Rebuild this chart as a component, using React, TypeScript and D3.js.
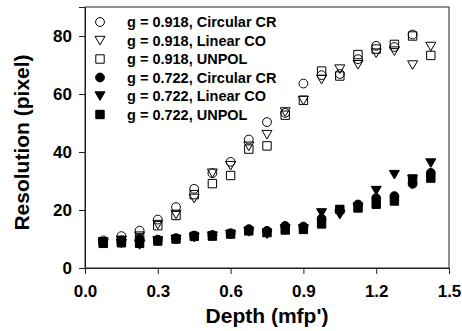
import * as d3 from "d3";
import { useEffect, useRef } from "react";

// depth (mfp') of every measurement
const depth = [0.075, 0.15, 0.225, 0.3, 0.375, 0.45, 0.525, 0.6, 0.675, 0.75, 0.825, 0.9, 0.975, 1.05, 1.125, 1.2, 1.275, 1.35, 1.425];

// g = 0.918 (open markers)
const circ918 = [9.5, 11, 12.9, 16.7, 21, 27.3, 32.7, 36.6, 44.3, 50.3, 53.5, 63.6, 66.5, 66.9, 72, 76.6, 76.2, 80.5, null];
const lin918 = [9, 9.5, 11, 15, 18.5, 24, 32.7, 35.3, 42, 46, 53.8, 57.8, 65, 68.6, 70.1, 74.1, 74.8, 70, 76.4];
const unpol918 = [9, 9.5, 10.5, 14.6, 18.1, 25.3, 29.1, 31.9, 41, 42.1, 52.7, 57.8, 67.9, 66.2, 73.6, 75.5, 77.1, 80, 73.3];

// g = 0.722 (filled markers)
const circ722 = [9, 9.5, 10, 9.8, 10.3, 11.2, 11.4, 12, 13.4, 12.8, 14.5, 14.3, 17, 19.8, 21.9, 24.1, 24.8, 29, 32.8];
const lin722 = [8.5, 8.5, 8, 9.3, 9.8, 10.5, 11, 11.5, 12.5, 11.7, 13.5, 13.5, 19, 18.4, 21, 26.7, 32.2, 30.5, 36.2];
const unpol722 = [8.5, 8.7, 8.5, 9.3, 10, 10.9, 11, 11.7, 12.8, 12.2, 13.1, 13.3, 15.2, 20.2, 20.7, 22, 23.1, 30.7, 31];

const xTicks = [0, 0.3, 0.6, 0.9, 1.2, 1.5];
const yTicks = [0, 20, 40, 60, 80];

type Shape = "circle" | "triangle" | "square";

const series: { label: string; values: (number | null)[]; shape: Shape; filled: boolean }[] = [
  { label: "g = 0.918, Circular CR", values: circ918, shape: "circle", filled: false },
  { label: "g = 0.918, Linear CO", values: lin918, shape: "triangle", filled: false },
  { label: "g = 0.918, UNPOL", values: unpol918, shape: "square", filled: false },
  { label: "g = 0.722, Circular CR", values: circ722, shape: "circle", filled: true },
  { label: "g = 0.722, Linear CO", values: lin722, shape: "triangle", filled: true },
  { label: "g = 0.722, UNPOL", values: unpol722, shape: "square", filled: true },
];

const markerPath = (shape: Shape) => {
  if (shape === "circle") {
    const r = 4.4;
    return `M${-r},0A${r},${r} 0 1,0 ${r},0A${r},${r} 0 1,0 ${-r},0Z`;
  }
  if (shape === "square") return "M-4.2,-4.2H4.2V4.2H-4.2Z";
  return "M-5,-4.2H5L0,4.4Z";
};

const App = () => {
  const svgRef = useRef<SVGSVGElement | null>(null);

  useEffect(() => {
    const width = 462;
    const height = 331;
    const margin = { top: 7, right: 13, bottom: 63, left: 85 };
    const font = "Arial, 'Liberation Sans', sans-serif";

    const svg = d3.select(svgRef.current);
    svg.selectAll("*").remove();

    const x = d3.scaleLinear().domain([0, 1.5]).range([margin.left, width - margin.right]);
    const y = d3.scaleLinear().domain([0, 90]).range([height - margin.bottom, margin.top]);

    // frame
    svg
      .append("rect")
      .attr("x", x(0))
      .attr("y", y(90))
      .attr("width", x(1.5) - x(0))
      .attr("height", y(0) - y(90))
      .attr("fill", "none")
      .attr("stroke", "#222")
      .attr("stroke-width", 1);

    // axes
    const xAxis = svg
      .append("g")
      .attr("transform", `translate(0,${y(0)})`)
      .call(d3.axisBottom(x).tickValues(xTicks).tickFormat(d3.format(".1f")).tickSizeOuter(0).tickSize(6).tickPadding(11));
    const yAxis = svg
      .append("g")
      .attr("transform", `translate(${x(0)},0)`)
      .call(d3.axisLeft(y).tickValues(yTicks).tickSizeOuter(0).tickSize(6).tickPadding(7));

    [xAxis, yAxis].forEach((g) => {
      g.select(".domain").attr("stroke", "#222");
      g.selectAll(".tick line").attr("stroke", "#222");
      g.selectAll(".tick text")
        .attr("fill", "#000")
        .style("font-family", font)
        .style("font-weight", "bold")
        .style("font-size", "17px");
    });

    // axis titles
    svg
      .append("text")
      .attr("x", (x(0) + x(1.5)) / 2)
      .attr("y", 323)
      .attr("text-anchor", "middle")
      .style("font-family", font)
      .style("font-weight", "bold")
      .style("font-size", "21px")
      .text("Depth (mfp')");

    svg
      .append("text")
      .attr("transform", `translate(29,${(y(0) + y(90)) / 2 + 5}) rotate(-90)`)
      .attr("text-anchor", "middle")
      .style("font-family", font)
      .style("font-weight", "bold")
      .style("font-size", "21px")
      .text("Resolution (pixel)");

    // data markers
    series.forEach((s) => {
      svg
        .append("g")
        .selectAll("path")
        .data(depth.map((d, i) => ({ d, v: s.values[i] })).filter((p) => p.v !== null))
        .join("path")
        .attr("transform", (p) => `translate(${x(p.d)},${y(p.v as number)})`)
        .attr("d", markerPath(s.shape))
        .attr("fill", s.filled ? "#000" : "none")
        .attr("stroke", "#000")
        .attr("stroke-width", 1);
    });

    // legend
    const legend = svg.append("g");
    series.forEach((s, i) => {
      const ly = 22 + i * 18.5;
      legend
        .append("path")
        .attr("transform", `translate(100,${ly})`)
        .attr("d", markerPath(s.shape))
        .attr("fill", s.filled ? "#000" : "none")
        .attr("stroke", "#000");
      legend
        .append("text")
        .attr("x", 127)
        .attr("y", ly)
        .attr("dy", "0.36em")
        .style("font-family", font)
        .style("font-weight", "bold")
        .style("font-size", "14.5px")
        .text(s.label);
    });
  }, []);

  return (
    <div style={{ position: "absolute", left: 0, top: 0, background: "#fff" }}>
      <svg ref={svgRef} width={462} height={331} style={{ display: "block" }}></svg>
    </div>
  );
};

export default App;
